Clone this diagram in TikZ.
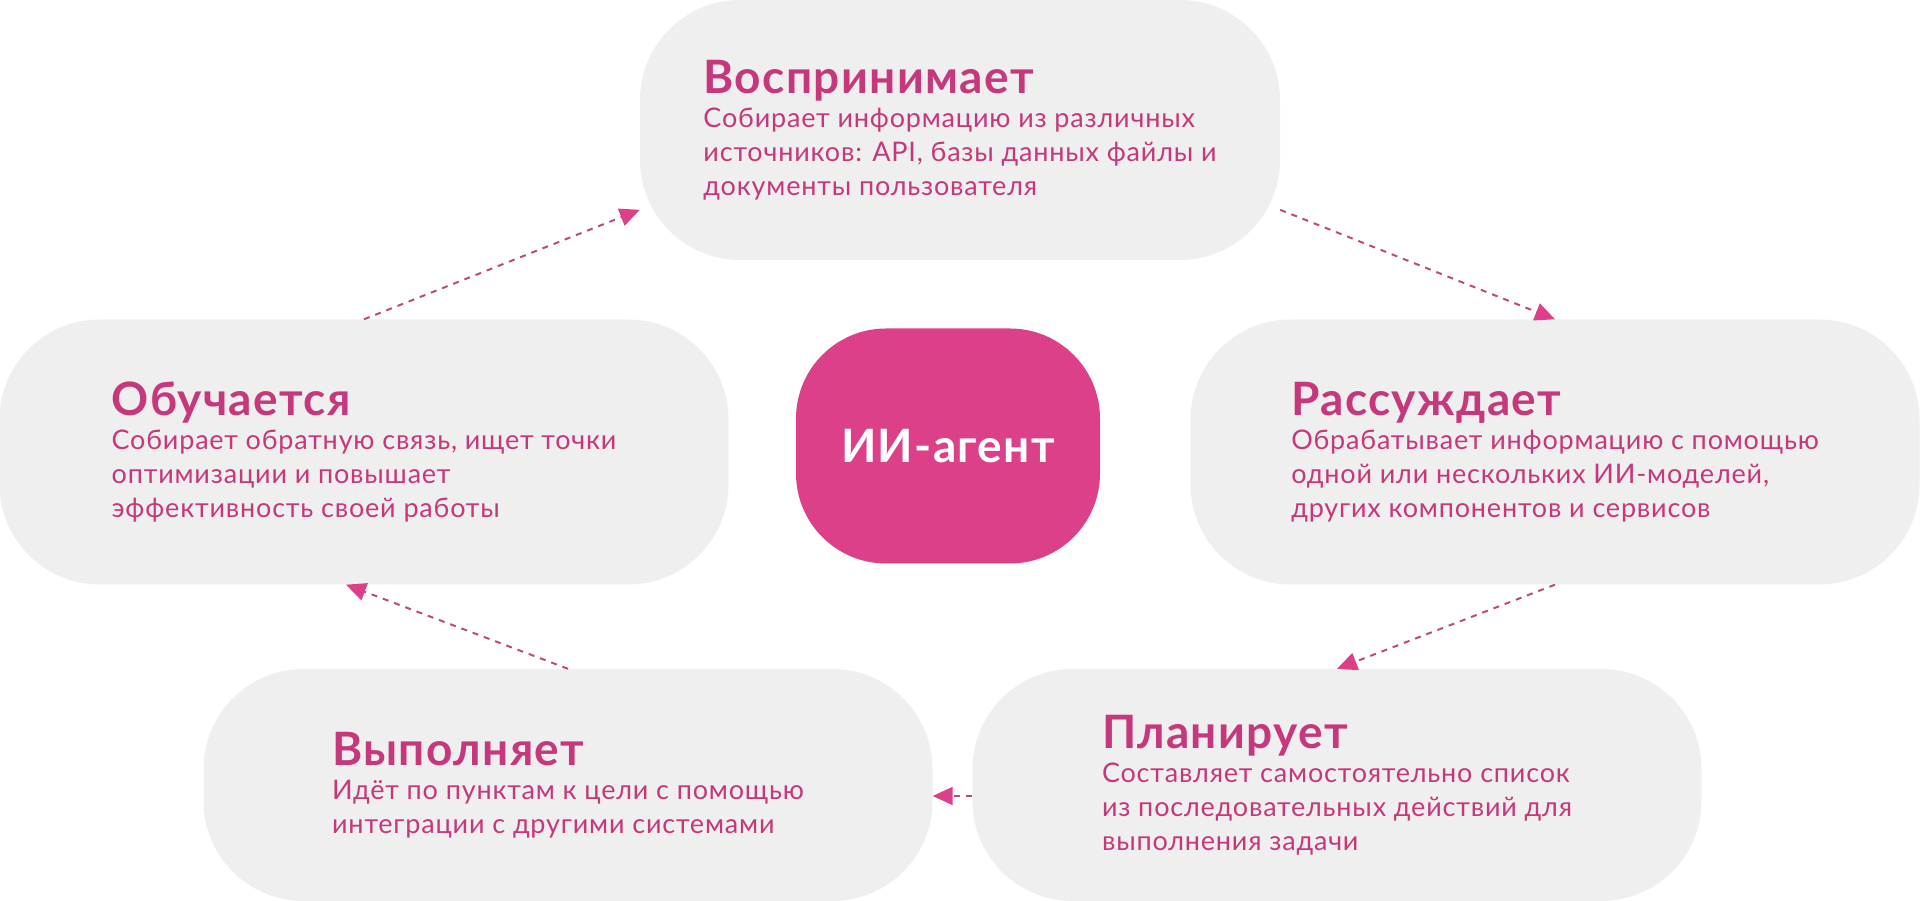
\documentclass[tikz,border=0pt]{standalone}
\usepackage{fontspec}
\setmainfont{Lato}[LetterSpace=3]
\usetikzlibrary{arrows.meta}
\definecolor{boxgray}{RGB}{239,239,239}
\definecolor{agentpink}{RGB}{220,64,136}
\definecolor{textpink}{RGB}{198,56,124}
\definecolor{linepink}{RGB}{185,75,125}
\newcommand{\stagetitle}[1]{{\fontsize{46}{39}\selectfont\bfseries #1}}

\begin{document}
\begin{tikzpicture}[x=1pt,y=1pt,
	stage/.style={fill=boxgray,rounded corners=100pt,minimum width=729pt,align=left,text=textpink,font=\fontsize{27}{34}\selectfont,inner sep=0pt},
	agent/.style={fill=agentpink,rounded corners=90pt,minimum width=304pt,minimum height=235pt,text=white,font=\fontsize{46}{46}\selectfont\bfseries},
	flow/.style={draw=linepink,line width=2pt,dash pattern=on 6pt off 6pt,-{Triangle[length=20pt,width=18pt,color=agentpink]}}]
	\useasboundingbox (0,0) rectangle (1920,901);
	% the five stages round the agent
	\node[stage,minimum width=640pt,minimum height=260pt] (perceive) at (960,771) {\stagetitle{Воспринимает}\\Собирает информацию из различных\\источников: API, базы данных файлы и\\документы пользователя};
	\node[stage,minimum height=265pt] (learn) at (364,449) {\stagetitle{Обучается}\\Собирает обратную связь, ищет точки\\оптимизации и повышает\\эффективность своей работы};
	\node[stage,minimum height=265pt] (reason) at (1555,449) {\stagetitle{Рассуждает}\\Обрабатывает информацию с помощью\\одной или нескольких ИИ-моделей,\\других компонентов и сервисов};
	\node[stage,minimum height=232pt] (act) at (568,116) {\stagetitle{Выполняет}\\Идёт по пунктам к цели с помощью\\интеграции с другими системами};
	\node[stage,minimum height=232pt] (plan) at (1337,116) {\stagetitle{Планирует}\\Составляет самостоятельно список\\из последовательных действий для\\выполнения задачи};
	\node[agent] (agent) at (948,455) {ИИ-агент};
	% the cycle
	\draw[flow] (learn.north) -- (perceive.194.7);
	\draw[flow] (perceive.-14.4) -- (reason.north);
	\draw[flow] (reason.south) -- (plan.north);
	\draw[flow] ([yshift=-11pt]plan.west) -- ([yshift=-11pt]act.east);
	\draw[flow] (act.north) -- ([xshift=-18pt]learn.south);
\end{tikzpicture}
\end{document}
